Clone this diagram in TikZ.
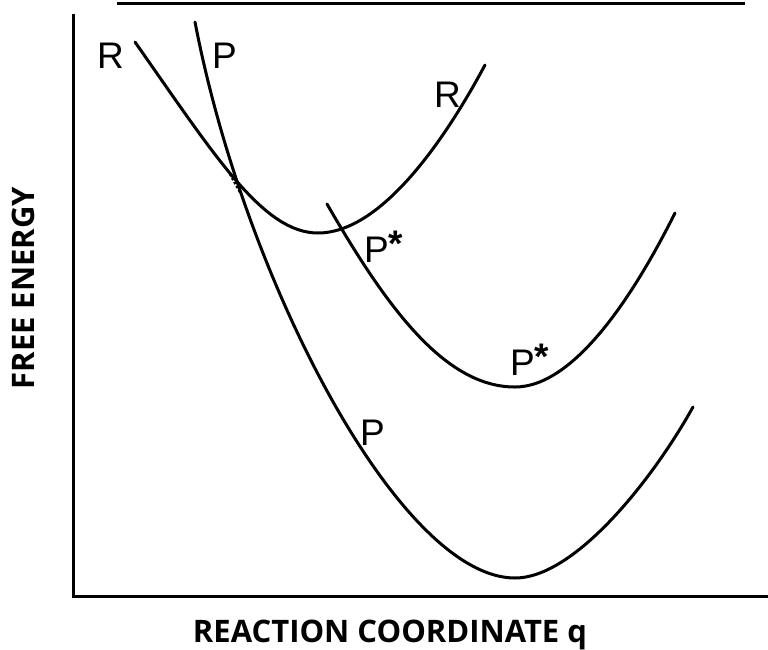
\documentclass[tikz,border=0pt]{standalone}
\usepackage{fontspec}
\newfontfamily\curvefont{Liberation Sans}
\newfontfamily\axisfont{Open Sans}
\newcommand{\pstar}{P\raisebox{0.16em}{\bfseries *}}
\begin{document}
\begin{tikzpicture}[x=1pt,y=-1pt,
curve/.style = {line width=3pt,black,line cap=round},
axisline/.style = {line width=3pt,black},
curvelabel/.style = {inner sep=0pt,anchor=base west,font=\curvefont\fontsize{37}{37}\selectfont},
axislabel/.style = {inner sep=0pt,font=\axisfont\bfseries\fontsize{31}{31}\selectfont}]
        \useasboundingbox (0,0) rectangle (768,649);

        % axes
        \coordinate (Ax_Top) at ( 73, 14 );
        \coordinate (Ax_Orig) at ( 73, 596 );
        \coordinate (Ax_Right) at ( 768, 596 );
        \draw[axisline] (Ax_Top) -- (Ax_Orig) -- (Ax_Right);
        \coordinate (Rule_L) at ( 117, 3 );
        \coordinate (Rule_R) at ( 745, 3 );
        \draw[axisline] (Rule_L) -- (Rule_R);

        % R well
        \coordinate (R_L) at ( 135, 42 );
        \coordinate (R_Min) at ( 318, 233 );
        \coordinate (R_R) at ( 485, 65 );
        \draw[curve] (R_L) .. controls (215,156) and (263,233) .. (R_Min)
                           .. controls (378,233) and (440,149) .. (R_R);
        % P well
        \coordinate (P_L) at ( 195, 22 );
        \coordinate (P_Min) at ( 515, 578 );
        \coordinate (P_R) at ( 693, 407 );
        \draw[curve] (P_L) .. controls (245,282) and (400,578) .. (P_Min)
                           .. controls (575,578) and (653,479) .. (P_R);
        % P* well
        \coordinate (S_L) at ( 327, 204 );
        \coordinate (S_Min) at ( 515, 387 );
        \coordinate (S_R) at ( 675, 213 );
        \draw[curve] (S_L) .. controls (387,308) and (445,387) .. (S_Min)
                           .. controls (575,387) and (635,293) .. (S_R);

        % crossing region
        \coordinate (Cross_A) at ( 230, 174 );
        \coordinate (Cross_B) at ( 241, 194 );
        \draw[line width=2.5pt,dotted] (Cross_A) -- (Cross_B);

        \node[curvelabel] (R_Left) at ( 97, 68 ) {R};
        \node[curvelabel] (P_Top) at ( 212, 68 ) {P};
        \node[curvelabel] (R_Right) at ( 434, 107 ) {R};
        \node[curvelabel] (PStar_Up) at ( 364, 262 ) {\pstar};
        \node[curvelabel] (PStar_Low) at ( 510, 375 ) {\pstar};
        \node[curvelabel] (P_Low) at ( 360, 445 ) {P};

        \node[axislabel,anchor=base] (Lab_X) at ( 390, 642 ) {REACTION COORDINATE q};
        \node[axislabel,anchor=base,rotate=90] (Lab_Y) at ( 34, 288 ) {FREE ENERGY};
\end{tikzpicture}
\end{document}
